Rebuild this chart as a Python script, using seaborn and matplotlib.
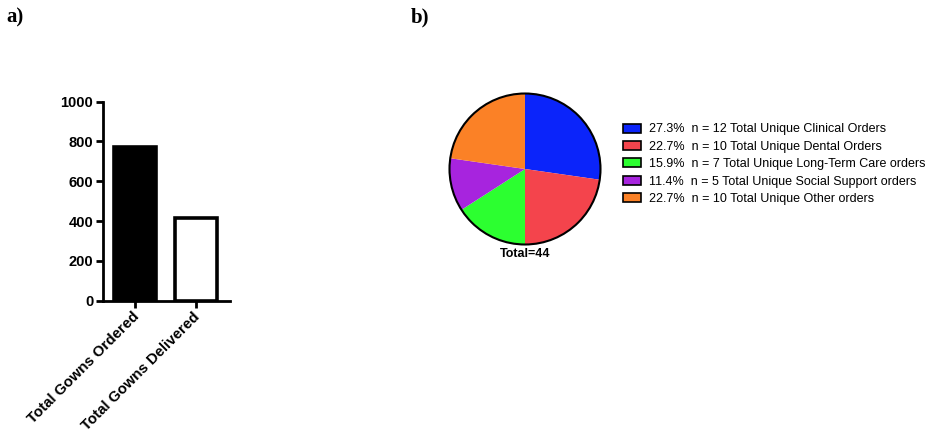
import matplotlib
matplotlib.use("Agg")
import matplotlib.pyplot as plt
import matplotlib.transforms as mtransforms
import seaborn as sns
import pandas as pd

# Panel a: gown totals
gown_categories = ["Total Gowns Ordered", "Total Gowns Delivered"]
gown_counts = [770, 414]
gown_fills = ["black", "white"]
y_ticks = [0, 200, 400, 600, 800, 1000]

# Panel b: unique orders by sector
order_groups = [
    "Total Unique Clinical Orders",
    "Total Unique Dental Orders",
    "Total Unique Long-Term Care orders",
    "Total Unique Social Support orders",
    "Total Unique Other orders",
]
order_counts = [12, 10, 7, 5, 10]
order_colors = ["#0B24FA", "#F4444C", "#2CFF30", "#A724DE", "#FB8126"]

sns.set_style("ticks")
plt.rcParams["font.family"] = ["Liberation Sans", "DejaVu Sans"]
plt.rcParams["text.color"] = "black"
plt.rcParams["xtick.color"] = "black"
plt.rcParams["ytick.color"] = "black"

fig = plt.figure(figsize=(9.32, 4.34), dpi=100)

# ---- bar chart ----
ax1 = fig.add_axes([0.1105, 0.307, 0.1363, 0.459])
df = pd.DataFrame({"category": gown_categories, "count": gown_counts})
sns.barplot(data=df, x="category", y="count", hue="category",
            palette=gown_fills, edgecolor="black", linewidth=2.6,
            width=0.68, legend=False, ax=ax1)
ax1.set_ylim(0, 1000)
ax1.set_xlim(-0.52, 1.56)
ax1.set_yticks(y_ticks)
ax1.set_xlabel("")
ax1.set_ylabel("")
for s in ["top", "right"]:
    ax1.spines[s].set_visible(False)
for s in ["left", "bottom"]:
    ax1.spines[s].set_linewidth(2)
    ax1.spines[s].set_color("black")
ax1.tick_params(axis="both", length=5, width=2, colors="black", pad=2)
ax1.tick_params(axis="y", labelsize=10.5)
ax1.set_xticks(range(len(gown_categories)))
ax1.set_xticklabels(gown_categories, rotation=45, ha="right",
                    rotation_mode="anchor", fontweight="bold", fontsize=10.8)
shift = mtransforms.ScaledTranslation(-3 / 100, 1 / 100, fig.dpi_scale_trans)
for lbl in ax1.get_xticklabels():
    lbl.set_transform(lbl.get_transform() + shift)
for lbl in ax1.get_yticklabels():
    lbl.set_fontweight("bold")

# ---- pie chart ----
ax2 = fig.add_axes([0.4823, 0.4366, 0.162, 0.348])
total = sum(order_counts)
wedges, _ = ax2.pie(order_counts, colors=order_colors, startangle=90,
                    counterclock=False,
                    wedgeprops=dict(edgecolor="none"))
circle = plt.Circle((0, 0), 1, fill=False, edgecolor="black", linewidth=1.5,
                    clip_on=False)
ax2.add_patch(circle)
ax2.set_xlim(-1.0, 1.0)
ax2.set_ylim(-1.0, 1.0)
ax2.set_aspect("equal")
ax2.text(0, -1.12, f"Total={total}", ha="center", va="center",
         fontsize=9, fontweight="bold")

labels = [f"{100 * c / total:.1f}%  n = {c} {g}"
          for c, g in zip(order_counts, order_groups)]
handles = [plt.Rectangle((0, 0), 1, 1, facecolor=col, edgecolor="black",
                         linewidth=1.2) for col in order_colors]
fig.legend(handles, labels, loc="upper left",
           bbox_to_anchor=(0.6685, 0.7155), frameon=False, fontsize=9,
           borderpad=0, borderaxespad=0, labelspacing=0.43,
           handlelength=1.45, handleheight=0.75, handletextpad=0.65)

# panel letters
fig.text(0.007, 0.96, "a)", fontsize=15, fontweight="bold",
         family="Liberation Serif", va="center")
fig.text(0.441, 0.96, "b)", fontsize=15, fontweight="bold",
         family="Liberation Serif", va="center")

fig.savefig("out.png", dpi=100)
